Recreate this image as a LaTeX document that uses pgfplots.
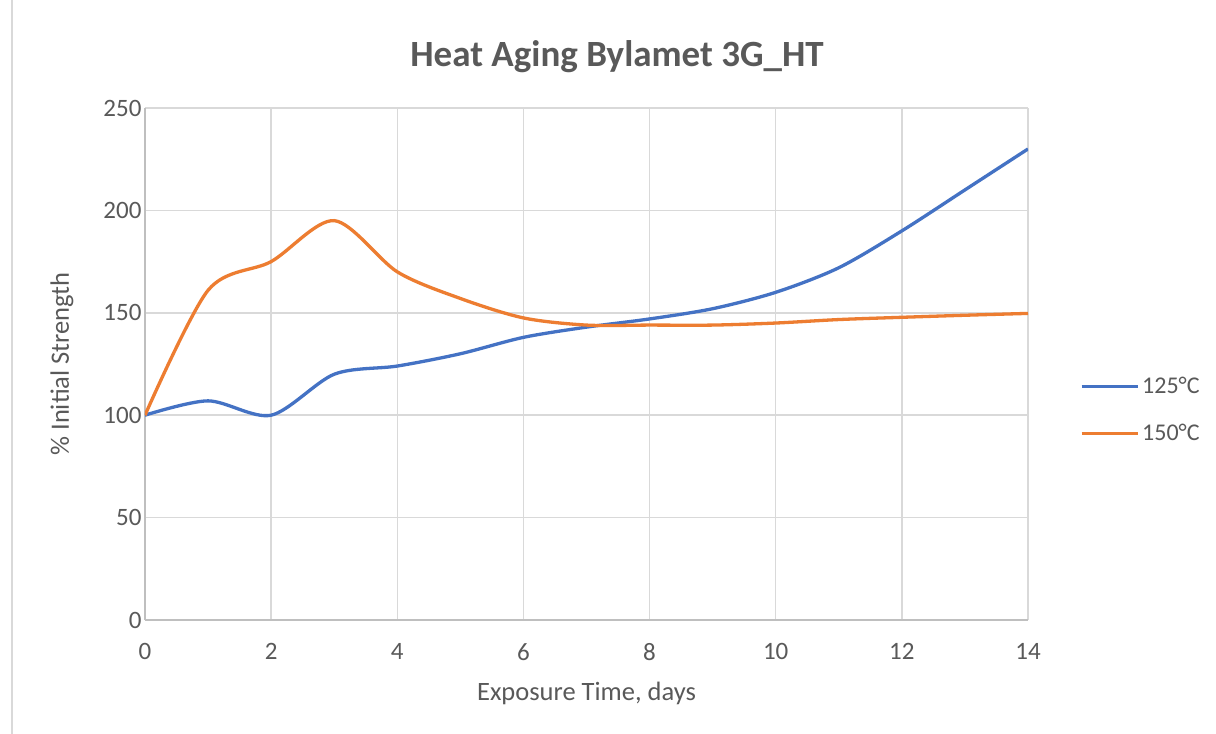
\documentclass[border=0pt]{standalone}
\usepackage{fontspec}
\setmainfont{Carlito}
\usepackage{pgfplots}
\pgfplotsset{compat=1.18}
\definecolor{txt}{RGB}{89,89,89}
\definecolor{gridc}{RGB}{217,217,217}
\definecolor{axc}{RGB}{191,191,191}
\definecolor{blueA}{RGB}{68,114,196}
\definecolor{orangeA}{RGB}{237,125,49}
\begin{document}
\begin{tikzpicture}
\path[use as bounding box] (-145bp,-114bp) rectangle (1071bp,620bp);
\fill[white] (-145bp,-114bp) rectangle (1071bp,620bp);
\draw[gridc, line width=1.5bp] (-133bp,-114bp) -- (-133bp,620bp);
\begin{axis}[
  scale only axis, width=883bp, height=512bp,
  xmin=0, xmax=14, ymin=0, ymax=250,
  xtick={0,2,...,14}, ytick={0,50,...,250},
  grid=major, major grid style={gridc, line width=1.5bp},
  axis x line*=bottom, axis y line*=left,
  x axis line style={axc, line width=2.2bp, -},
  y axis line style={axc, line width=1.8bp, -},
  tick style={draw=none},
  ticklabel style={font=\fontsize{25bp}{29bp}\selectfont, text=txt},
  /pgf/number format/assume math mode=true,
  xticklabel style={yshift=-20bp},
  xlabel={Exposure Time, days},
  ylabel={\% Initial Strength},
  label style={font=\fontsize{26.5bp}{30bp}\selectfont, text=txt},
  x label style={at={(axis description cs:0.5,-0.1426)}, anchor=center},
  y label style={at={(axis description cs:-0.094,0.5)}, anchor=center},
  legend style={at={(axis description cs:1.0589,0.411)}, anchor=west, draw=none, fill=none,
    inner sep=0pt, row sep=23bp, font=\fontsize{24bp}{28bp}\selectfont, text=txt,
    nodes={inner sep=3bp}},
  legend cell align=left,
  legend image code/.code={\draw[#1, line width=3bp] (0bp,0bp) -- (56bp,0bp);},
  every axis plot/.append style={line width=3.3bp, smooth, tension=0.5, no markers},
]
\addplot[blueA] coordinates {
(0,100) (1,107) (2,100) (3,120) (4,124) (5,130) (6,138) (7,143) (8,147)
(9,152) (10,160) (11,172) (12,190) (13,210) (14,230)};
\addlegendentry{125°C}
\addplot[orangeA] coordinates {
(0,100) (1,161) (2,175) (3,195) (4,170) (5,157) (6,147.5) (7,144) (8,144)
(9,144) (10,145) (11,146.7) (12,147.8) (13,148.8) (14,149.7)};
\addlegendentry{150°C}
\end{axis}
\node[font=\bfseries\fontsize{37bp}{41bp}\selectfont, text=txt] at (472bp,563bp) {Heat Aging Bylamet 3G\_HT};
\end{tikzpicture}
\end{document}
